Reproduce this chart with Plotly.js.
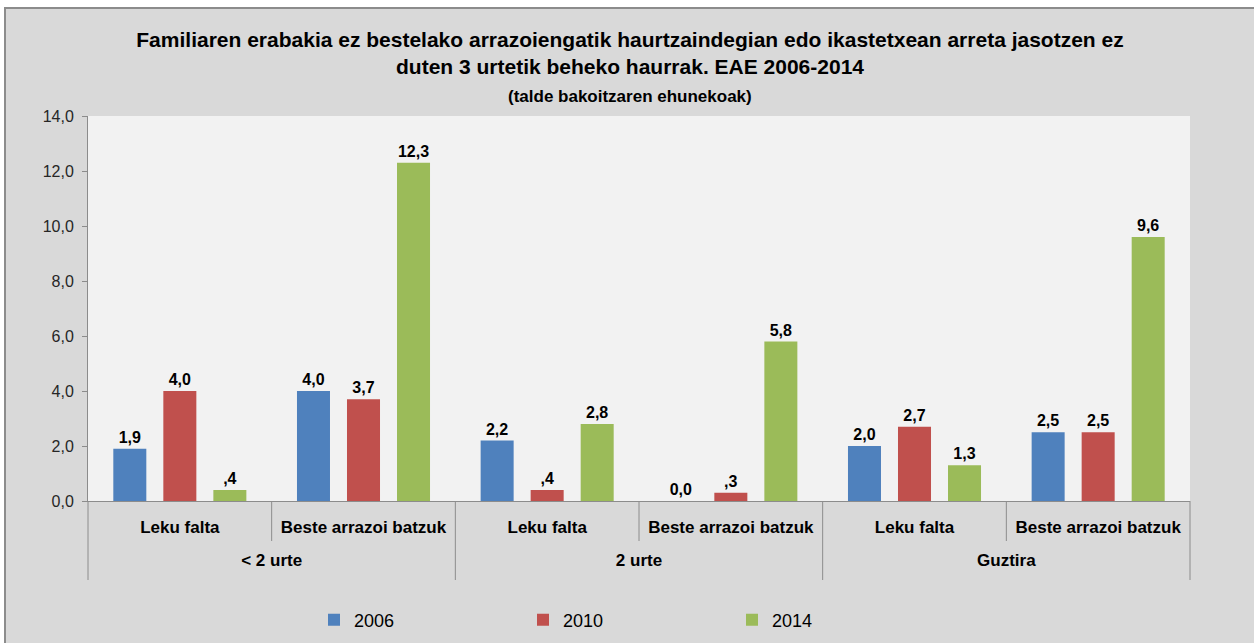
<!DOCTYPE html>
<html>
<head>
<meta charset="utf-8">
<script src="https://cdn.plot.ly/plotly-3.0.1.min.js"></script>
<style>
  html, body { margin: 0; padding: 0; background: #ffffff; overflow: hidden; }
  #wrap { position: absolute; left: 4px; top: 7px; width: 1260px; height: 650px;
          border-top: 2px solid #8c8c8c; border-left: 2px solid #8c8c8c; background: #d9d9d9; }
  #chart { width: 1248px; height: 634px; }
</style>
</head>
<body>
<div id="wrap"><div id="chart"></div></div>
<script>
// ---- data ----
const groups = ["< 2 urte", "< 2 urte", "2 urte", "2 urte", "Guztira", "Guztira"];
const reasons = ["Leku falta", "Beste arrazoi batzuk", "Leku falta", "Beste arrazoi batzuk", "Leku falta", "Beste arrazoi batzuk"];
const years = ["2006", "2010", "2014"];
const v2006 = [1.9, 4.0, 2.2, 0.0, 2.0, 2.5];
const v2010 = [4.0, 3.7, 0.4, 0.3, 2.7, 2.5];
const v2014 = [0.4, 12.3, 2.8, 5.8, 1.3, 9.6];
const colors = ["#4f81bd", "#c0504d", "#9bbb59"];
const yTicks = [0, 2, 4, 6, 8, 10, 12, 14];

const FONT = "Liberation Sans, Arial, sans-serif";

function fmt(v) {
  // Excel-style number format with comma decimal; values between 0 and 1 lose the leading zero
  if (v > 0 && v < 1) return "," + Math.round(v * 10);
  return v.toFixed(1).replace(".", ",");
}

// outer labels get an empty first line so they sit one row lower, as in the original
const outerLabels = groups.map(g => " <br>" + g);

const series = [v2006, v2010, v2014];
const traces = series.map((vals, i) => ({
  type: "bar",
  name: years[i],
  x: [outerLabels, reasons],
  y: vals,
  marker: { color: colors[i] },
  text: vals.map(fmt),
  textposition: "outside",
  textfont: { family: FONT, size: 16, color: "#000000", weight: "bold" },
  cliponaxis: false,
  hoverinfo: "skip"
}));

// dividers of the two-level category axis (decoration)
const shapes = [];
const nCat = reasons.length;
for (let k = 0; k < nCat; k += 2) {
  const xf = (k + 1) / nCat;
  shapes.push({ type: "line", xref: "paper", yref: "paper", x0: xf, x1: xf, y0: 0, y1: -40 / 385,
                line: { color: "#8c8c8c", width: 1 } });
}
for (let k = 0; k <= nCat; k += 2) {
  const xf = k / nCat;
  shapes.push({ type: "line", xref: "paper", yref: "paper", x0: xf, x1: xf, y0: 0, y1: -79 / 385,
                line: { color: "#8c8c8c", width: 1 } });
}

const layout = {
  width: 1248, height: 634,
  margin: { l: 82, r: 64, t: 107, b: 142, autoexpand: false },
  paper_bgcolor: "#d9d9d9",
  plot_bgcolor: "#f2f2f2",
  font: { family: FONT, color: "#000000" },
  title: {
    text: "Familiaren erabakia ez bestelako arrazoiengatik haurtzaindegian edo ikastetxean arreta jasotzen ez<br>duten 3 urtetik beheko haurrak. EAE 2006-2014",
    font: { family: FONT, size: 21, color: "#000000", weight: "bold" },
    x: 0.5, xref: "container", xanchor: "center",
    y: 1 - 38 / 634, yref: "container", yanchor: "top"
  },
  annotations: [{
    text: "(talde bakoitzaren ehunekoak)",
    xref: "paper", yref: "paper", x: (624 - 82) / 1102, y: 1 + (107 - 87) / 385,
    xanchor: "center", yanchor: "middle", showarrow: false,
    font: { family: FONT, size: 17, color: "#000000", weight: "bold" }
  }],
  bargap: 0.183,
  bargroupgap: 0.34,
  barmode: "group",
  xaxis: {
    type: "multicategory",
    automargin: false,
    showline: true, linecolor: "#8c8c8c", linewidth: 1,
    showgrid: false,
    ticks: "",
    ticklabelstandoff: 11,
    showdividers: false,
    tickfont: { family: FONT, size: 17, color: "#000000", weight: "bold" },
    fixedrange: true
  },
  yaxis: {
    automargin: false,
    range: [0, 14],
    tickvals: yTicks,
    ticktext: yTicks.map(v => v.toFixed(1).replace(".", ",")),
    showline: true, linecolor: "#8c8c8c", linewidth: 1,
    ticks: "outside", ticklen: 5, tickcolor: "#8c8c8c",
    ticklabelstandoff: 5,
    showgrid: false, zeroline: false,
    tickfont: { family: FONT, size: 16, color: "#262626" },
    fixedrange: true
  },
  shapes: shapes,
  showlegend: true,
  legend: {
    orientation: "h",
    x: (308 - 82) / 1102, xanchor: "left",
    y: -(611 - 492) / 385, yanchor: "middle",
    entrywidth: 164, entrywidthmode: "pixels",
    font: { family: FONT, size: 18, color: "#000000" },
    bgcolor: "rgba(0,0,0,0)"
  }
};

Plotly.newPlot("chart", traces, layout, { staticPlot: true, displayModeBar: false });
</script>
</body>
</html>
